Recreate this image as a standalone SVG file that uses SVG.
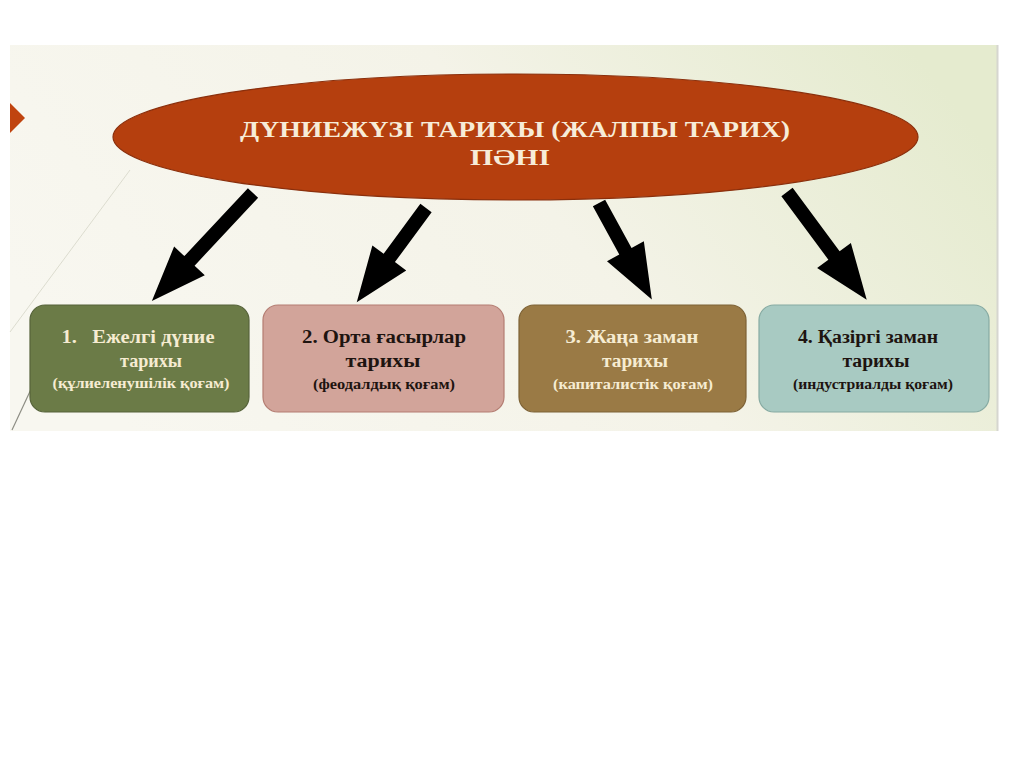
<svg xmlns="http://www.w3.org/2000/svg" width="1024" height="767" viewBox="0 0 1024 767">
<defs>
<linearGradient id="bg" x1="0" y1="0.6" x2="1" y2="0.3">
<stop offset="0" stop-color="#f8f7f0"/>
<stop offset="0.55" stop-color="#f4f3e8"/>
<stop offset="1" stop-color="#e5ebcf"/>
</linearGradient>
<style>
.ttl{font-family:"Liberation Serif","DejaVu Serif",serif;font-weight:bold;fill:#f7ecd8;text-anchor:middle}
.bt{font-family:"Liberation Serif","DejaVu Serif",serif;font-weight:bold;text-anchor:middle}
.l1{font-size:18.5px}
.l3{font-size:14.5px}
.light{fill:#f6ecd2}
.dark{fill:#1e1410}
.arrow{fill:#000}
</style>
</defs>
<rect width="1024" height="767" fill="#ffffff"/>
<rect x="10" y="45" width="988" height="386" fill="url(#bg)"/>
<line x1="997.5" y1="45" x2="997.5" y2="431" stroke="#d6d6d0" stroke-width="2"/>
<line x1="130" y1="170" x2="10" y2="332" stroke="#dcdccf" stroke-width="1"/>
<line x1="33" y1="385" x2="12" y2="430" stroke="#8e8e84" stroke-width="1.2"/>
<polygon points="10,103 25,118 10,133" fill="#c0440f"/>

<g id="connectors">
<path class="arrow" transform="translate(253,193) rotate(133.1)" d="M0,-7 L93,-7 L93,-21 L148,0 L93,21 L93,7 L0,7 Z"/>
<path class="arrow" transform="translate(426,208) rotate(126.3)" d="M0,-7 L62,-7 L62,-21 L117,0 L62,21 L62,7 L0,7 Z"/>
<path class="arrow" transform="translate(599,203) rotate(61.3)" d="M0,-7 L55,-7 L55,-21 L110,0 L55,21 L55,7 L0,7 Z"/>
<path class="arrow" transform="translate(787,192) rotate(53.5)" d="M0,-7 L79,-7 L79,-21 L134,0 L79,21 L79,7 L0,7 Z"/>
</g>

<g id="title">
<ellipse cx="515.5" cy="137" rx="402.5" ry="63" fill="#b53f0e" stroke="#8a2f0c" stroke-width="1.2"/>
<text class="ttl" x="515" y="137" font-size="23" textLength="550" lengthAdjust="spacingAndGlyphs">ДҮНИЕЖҮЗІ ТАРИХЫ (ЖАЛПЫ ТАРИХ)</text>
<text class="ttl" x="510" y="165" font-size="23" textLength="80" lengthAdjust="spacingAndGlyphs">ПӘНІ</text>
</g>

<g id="box1">
<rect x="30" y="305" width="219" height="107" rx="15" fill="#6b7b47" stroke="#56633a" stroke-width="1.2"/>
<text class="bt l1 light" x="138" y="343" xml:space="preserve" textLength="153" lengthAdjust="spacingAndGlyphs">1.   Ежелгі дүние</text>
<text class="bt l1 light" x="151" y="367" textLength="62" lengthAdjust="spacingAndGlyphs">тарихы</text>
<text class="bt l3 light" x="141" y="388" textLength="177" lengthAdjust="spacingAndGlyphs">(құлиеленушілік қоғам)</text>
</g>

<g id="box2">
<rect x="263" y="305" width="241" height="107" rx="15" fill="#d2a49a" stroke="#b47d72" stroke-width="1.2"/>
<text class="bt l1 dark" x="384" y="343" textLength="164" lengthAdjust="spacingAndGlyphs">2. Орта ғасырлар</text>
<text class="bt l1 dark" x="383" y="367" textLength="75" lengthAdjust="spacingAndGlyphs">тарихы</text>
<text class="bt l3 dark" x="384" y="389" textLength="142" lengthAdjust="spacingAndGlyphs">(феодалдық қоғам)</text>
</g>

<g id="box3">
<rect x="519" y="305" width="227" height="107" rx="15" fill="#9a7a45" stroke="#7d6236" stroke-width="1.2"/>
<text class="bt l1 light" x="632" y="343" textLength="133" lengthAdjust="spacingAndGlyphs">3. Жаңа заман</text>
<text class="bt l1 light" x="635" y="367" textLength="66" lengthAdjust="spacingAndGlyphs">тарихы</text>
<text class="bt l3 light" x="633" y="389" textLength="160" lengthAdjust="spacingAndGlyphs">(капиталистік қоғам)</text>
</g>

<g id="box4">
<rect x="759" y="305" width="230" height="107" rx="15" fill="#a8cac2" stroke="#86aaa2" stroke-width="1.2"/>
<text class="bt l1 dark" x="868" y="343" textLength="140" lengthAdjust="spacingAndGlyphs">4. Қазіргі заман</text>
<text class="bt l1 dark" x="876" y="367" textLength="67" lengthAdjust="spacingAndGlyphs">тарихы</text>
<text class="bt l3 dark" x="873" y="389" textLength="160" lengthAdjust="spacingAndGlyphs">(индустриалды қоғам)</text>
</g>
</svg>
